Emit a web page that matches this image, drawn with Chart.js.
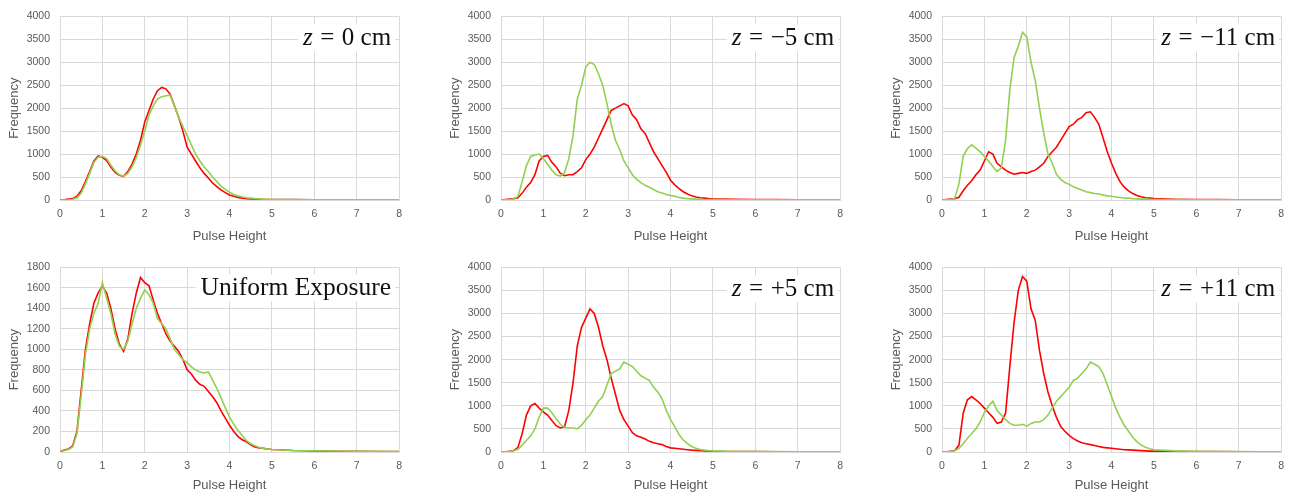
<!DOCTYPE html>
<html>
<head>
<meta charset="utf-8">
<script src="https://cdn.jsdelivr.net/npm/chart.js@4.4.1/dist/chart.umd.min.js"></script>
<style>
  body { margin: 0; background: #fff; }
  .panel { position: absolute; }
</style>
</head>
<body>
<div class="panel" style="left:0px;top:0px"><canvas id="c0" width="410" height="248"></canvas></div>
<div class="panel" style="left:441px;top:0px"><canvas id="c1" width="410" height="248"></canvas></div>
<div class="panel" style="left:882px;top:0px"><canvas id="c2" width="410" height="248"></canvas></div>
<div class="panel" style="left:0px;top:251px"><canvas id="c3" width="410" height="246"></canvas></div>
<div class="panel" style="left:441px;top:251px"><canvas id="c4" width="410" height="246"></canvas></div>
<div class="panel" style="left:882px;top:251px"><canvas id="c5" width="410" height="246"></canvas></div>
<script>
// pulse height bins (x values)
var pulseHeight = [
  0, 0.1, 0.2, 0.3, 0.4, 0.5, 0.6, 0.7, 0.8, 0.9,
  1.0, 1.1, 1.2, 1.3, 1.4, 1.5, 1.6, 1.7, 1.8, 1.9,
  2.0, 2.1, 2.2, 2.3, 2.4, 2.5, 2.6, 2.7, 2.8, 2.9,
  3.0, 3.1, 3.2, 3.3, 3.4, 3.5, 3.6, 3.7, 3.8, 3.9,
  4.0, 4.1, 4.2, 4.3, 4.4, 4.5, 4.6, 4.7, 4.8, 4.9,
  5.0, 5.5, 6.0, 6.5, 7.0, 7.5, 8.0
];

var panelLabels = ['z = 0 cm', 'z = \u22125 cm', 'z = \u221211 cm', 'Uniform Exposure', 'z = +5 cm', 'z = +11 cm'];
var yMax = [4000, 4000, 4000, 1800, 4000, 4000];
var yStep = [500, 500, 500, 200, 500, 500];
var xTicks = [0, 1, 2, 3, 4, 5, 6, 7, 8];

// z = 0 cm
var redZ0 = [
  0, 5, 20, 30, 80, 200, 400, 620, 850, 960,
  930, 860, 720, 600, 540, 515, 620, 780, 1000, 1300,
  1700, 1950, 2200, 2380, 2450, 2420, 2300, 2050, 1800, 1500,
  1150, 1000, 850, 700, 580, 480, 370, 290, 220, 160,
  110, 80, 55, 40, 30, 22, 18, 15, 12, 10,
  10, 8, 6, 5, 5, 4, 3
];
var greenZ0 = [
  0, 0, 5, 15, 50, 150, 350, 580, 820, 930,
  950, 900, 760, 630, 550, 520, 580, 720, 920, 1200,
  1500, 1850, 2050, 2200, 2250, 2270, 2280, 2050, 1800, 1600,
  1400, 1200, 1000, 850, 720, 620, 500, 400, 300, 230,
  170, 120, 90, 65, 50, 40, 30, 25, 20, 15,
  12, 8, 6, 5, 4, 3, 3
];
// z = -5 cm
var redM5 = [
  0, 10, 20, 30, 50, 150, 280, 380, 550, 850,
  950, 970, 820, 720, 580, 530, 550, 550, 620, 700,
  880, 1000, 1150, 1350, 1550, 1750, 1950, 2000, 2050, 2100,
  2050, 1850, 1750, 1550, 1450, 1250, 1050, 900, 750, 600,
  430, 330, 250, 180, 130, 90, 65, 50, 40, 30,
  25, 15, 10, 8, 6, 5, 4
];
var greenM5 = [
  0, 5, 10, 20, 80, 400, 750, 950, 980, 1000,
  900, 780, 650, 550, 520, 600, 900, 1400, 2200, 2500,
  2900, 3000, 2950, 2750, 2500, 2100, 1650, 1300, 1100, 850,
  700, 550, 450, 380, 320, 280, 230, 180, 150, 120,
  100, 80, 55, 40, 30, 25, 20, 15, 12, 10,
  8, 5, 5, 4, 3, 3, 3
];
// z = -11 cm
var redM11 = [
  0, 10, 20, 30, 60, 200, 320, 420, 550, 650,
  850, 1050, 1000, 800, 720, 650, 600, 560, 580, 600,
  580, 620, 650, 720, 800, 950, 1050, 1150, 1300, 1450,
  1600, 1650, 1750, 1800, 1900, 1920, 1800, 1650, 1350, 1050,
  800, 580, 400, 280, 200, 140, 100, 70, 50, 40,
  30, 15, 10, 8, 6, 5, 5
];
var greenM11 = [
  0, 5, 10, 30, 350, 950, 1120, 1200, 1130, 1050,
  950, 850, 730, 620, 700, 1300, 2400, 3100, 3350, 3650,
  3550, 3000, 2600, 2000, 1460, 1000, 800, 560, 450, 380,
  340, 290, 250, 220, 180, 160, 140, 130, 110, 90,
  80, 65, 55, 45, 40, 30, 25, 20, 18, 15,
  12, 8, 6, 5, 4, 3, 3
];
// uniform exposure
var redUni = [
  0, 20, 30, 60, 200, 600, 1000, 1250, 1450, 1550,
  1620, 1550, 1400, 1200, 1050, 980, 1100, 1350, 1550, 1700,
  1650, 1620, 1480, 1350, 1250, 1150, 1080, 1030, 980, 900,
  800, 760, 700, 660, 640, 590, 540, 480, 400, 330,
  260, 200, 150, 120, 100, 70, 50, 40, 35, 30,
  25, 15, 10, 8, 6, 5, 5
];
var greenUni = [
  0, 15, 25, 50, 180, 550, 950, 1200, 1350, 1450,
  1650, 1500, 1350, 1150, 1030, 1000, 1080, 1250, 1400, 1500,
  1580, 1530, 1450, 1300, 1250, 1200, 1100, 1000, 950, 900,
  870, 830, 800, 780, 770, 780, 700, 620, 530, 430,
  340, 270, 210, 160, 110, 80, 60, 45, 35, 30,
  25, 15, 12, 10, 8, 6, 5
];
// z = +5 cm
var redP5 = [
  0, 5, 15, 30, 100, 400, 800, 1000, 1050, 950,
  870, 800, 680, 570, 520, 550, 900, 1500, 2300, 2700,
  2900, 3100, 3000, 2700, 2300, 2000, 1600, 1250, 900, 700,
  560, 420, 350, 320, 280, 230, 200, 180, 160, 120,
  90, 80, 70, 60, 50, 40, 35, 30, 25, 20,
  15, 10, 8, 6, 5, 4, 3
];
var greenP5 = [
  0, 5, 10, 25, 60, 150, 250, 350, 500, 750,
  950, 950, 850, 720, 600, 530, 520, 520, 500, 580,
  700, 800, 950, 1100, 1200, 1450, 1700, 1750, 1800, 1950,
  1900, 1850, 1750, 1650, 1600, 1550, 1400, 1300, 1150, 900,
  700, 550, 380, 260, 180, 120, 80, 55, 40, 30,
  25, 12, 10, 8, 6, 5, 4
];
// z = +11 cm
var redP11 = [
  0, 5, 15, 30, 150, 840, 1130, 1200, 1130, 1050,
  950, 850, 750, 620, 650, 840, 1850, 2800, 3500, 3800,
  3700, 3100, 2850, 2200, 1700, 1300, 1000, 750, 550, 450,
  360, 290, 240, 200, 180, 160, 140, 120, 100, 90,
  80, 70, 60, 50, 45, 40, 35, 30, 25, 20,
  18, 12, 10, 8, 6, 5, 4
];
var greenP11 = [
  0, 5, 10, 25, 80, 180, 300, 400, 500, 650,
  850, 1000, 1100, 900, 800, 700, 620, 580, 580, 600,
  560, 620, 650, 650, 700, 800, 950, 1100, 1200, 1300,
  1400, 1550, 1600, 1700, 1800, 1950, 1900, 1850, 1700, 1450,
  1200, 950, 750, 580, 450, 320, 220, 150, 100, 70,
  50, 25, 15, 10, 8, 6, 5
];

var redSeries = [redZ0, redM5, redM11, redUni, redP5, redP11];
var greenSeries = [greenZ0, greenM5, greenM11, greenUni, greenP5, greenP11];

var GRID = '#d9d9d9';
var TEXT = '#595959';
var SANS = "'Liberation Sans', Arial, sans-serif";
var SERIF = "'Liberation Serif', 'Times New Roman', serif";

function points(vals) {
  return pulseHeight.map(function(x, i) { return { x: x, y: vals[i] }; });
}

// label in the top right corner, on a white box that hides the grid
var cornerLabel = {
  id: 'cornerLabel',
  beforeDatasetsDraw: function(chart, args, opts) {
    var ctx = chart.ctx, area = chart.chartArea;
    var text = opts.text;
    var size = opts.size;
    var parts;
    if (text.indexOf('z = ') === 0) {
      parts = [{ t: 'z', it: true, gap: 0 }, { t: '=', gap: 0.3 }, { t: text.slice(4), gap: 0.3 }];
    } else {
      parts = [{ t: text, gap: 0 }];
    }
    ctx.save();
    var total = 0;
    parts.forEach(function(p) {
      ctx.font = (p.it ? 'italic ' : '') + size + 'px ' + SERIF;
      p.w = ctx.measureText(p.t).width;
      total += p.gap * size + p.w;
    });
    var right = area.right - opts.right;
    var x = right - total;
    var cy = area.top + opts.dy;
    ctx.fillStyle = '#fff';
    ctx.fillRect(x - 5, cy - 13, total + 9, 27);
    ctx.fillStyle = '#111';
    ctx.textBaseline = 'middle';
    ctx.textAlign = 'left';
    parts.forEach(function(p) {
      x += p.gap * size;
      ctx.font = (p.it ? 'italic ' : '') + size + 'px ' + SERIF;
      ctx.fillText(p.t, x, cy + 1);
      x += p.w;
    });
    ctx.restore();
  }
};

function plainTick(value) { return String(value); }

for (var k = 0; k < 6; k++) {
  var bottomRow = k >= 3;
  var xAxisHeight = bottomRow ? 45 : 48;
  (function(k, xAxisHeight) {
    new Chart(document.getElementById('c' + k), {
      type: 'line',
      data: {
        datasets: [
          { label: 'green', data: points(greenSeries[k]), borderColor: '#92d050', borderWidth: 1.6 },
          { label: 'red', data: points(redSeries[k]), borderColor: '#ff0000', borderWidth: 1.6 }
        ]
      },
      options: {
        responsive: false,
        animation: false,
        layout: { padding: { top: 16, right: k % 3 === 0 ? 7 : 8, left: 0, bottom: 0 } },
        elements: { point: { radius: 0 }, line: { tension: 0 } },
        plugins: {
          legend: { display: false },
          tooltip: { enabled: false },
          cornerLabel: {
            text: panelLabels[k],
            size: k === 3 ? 25.5 : 25,
            right: k === 3 ? 8 : (k % 3 === 0 ? 8 : 6),
            dy: k === 3 ? 20 : 21
          }
        },
        scales: {
          x: {
            type: 'linear', min: 0, max: 8,
            afterBuildTicks: function(s) { s.ticks = xTicks.map(function(v) { return { value: v }; }); },
            grid: { color: GRID, drawTicks: false },
            border: { color: GRID },
            ticks: { padding: 8, color: TEXT, font: { family: SANS, size: 10.5 }, callback: plainTick },
            title: { display: true, text: 'Pulse Height', color: TEXT, font: { family: SANS, size: 13 }, padding: { top: 4, bottom: 4 } },
            afterFit: function(s) { s.height = xAxisHeight; }
          },
          y: {
            min: 0, max: yMax[k],
            grid: { color: GRID, drawTicks: false },
            border: { color: GRID },
            ticks: { stepSize: yStep[k], padding: 10, color: TEXT, font: { family: SANS, size: 10.5 }, callback: plainTick },
            title: { display: true, text: 'Frequency', color: TEXT, font: { family: SANS, size: 13 }, padding: { top: 7, bottom: 0 } },
            afterFit: function(s) { s.width = 60; }
          }
        }
      },
      plugins: [cornerLabel]
    });
  })(k, xAxisHeight);
}
</script>
</body>
</html>
